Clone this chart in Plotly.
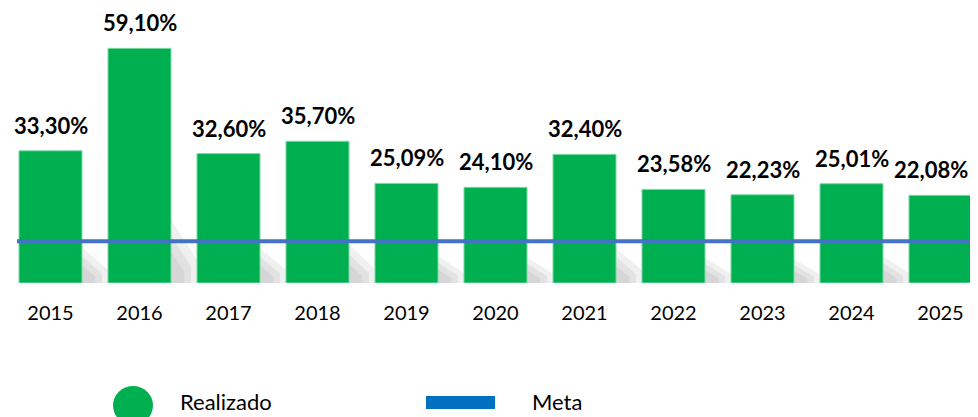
import plotly.graph_objects as go

# Datos
anios = [2015, 2016, 2017, 2018, 2019, 2020, 2021, 2022, 2023, 2024, 2025]
realizado = [33.30, 59.10, 32.60, 35.70, 25.09, 24.10, 32.40, 23.58, 22.23, 25.01, 22.08]
meta = 10.5
etiquetas_anio = [str(a) for a in anios]

VERDE = '#00B050'
AZUL_META = '#4472C4'
AZUL_LEYENDA = '#0070C0'
FUENTE = 'Lato'

# la pagina deja 8px de margen arriba/izquierda y una franja a la derecha
W, H = 962, 409
ALTO_PLOT = 275  # pixeles del area de dibujo
ANCHO_BARRA = 0.708
PX_POR_ANIO = 89


def py(pix):
    # pixel vertical (de la figura) -> coordenada paper
    return (ALTO_PLOT - pix) / ALTO_PLOT


def px(pix):
    return pix / W


def fmt(v):
    return f'{v:.2f}'.replace('.', ',') + '%'


fig = go.Figure()

# Sombra difusa a la derecha de cada barra (capas con poca opacidad)
for a, v in zip(anios, realizado):
    xr = a + ANCHO_BARRA / 2
    for f in [1.0, 0.75, 0.5]:
        alto = 0.27 * v * f
        ancho = 0.3 * f
        path = (f'M {xr},0 L {xr},{alto} '
                f'L {xr + ancho},{alto * 0.35} L {xr + ancho},0 Z')
        fig.add_shape(type='path', path=path, xref='x', yref='y',
                      fillcolor='rgba(120,120,120,0.11)', line=dict(width=0),
                      layer='below')

fig.add_trace(go.Bar(
    x=anios,
    y=realizado,
    width=ANCHO_BARRA,
    marker=dict(color=VERDE, line=dict(color='#7fd9a6', width=1)),
    showlegend=False,
    hoverinfo='skip',
))

# Linea de meta
fig.add_shape(type='line', xref='paper', yref='y',
              x0=px(9), x1=1, y0=meta, y1=meta,
              line=dict(color=AZUL_META, width=4))

# Etiquetas de valores
for i, (a, v) in enumerate(zip(anios, realizado)):
    ultimo = i == len(anios) - 1
    fig.add_annotation(x=1 if ultimo else a, xref='paper' if ultimo else 'x',
                       xanchor='right' if ultimo else 'center',
                       y=v, text=f'<b>{fmt(v)}</b>', showarrow=False,
                       yanchor='bottom', yshift=10,
                       font=dict(family=FUENTE, size=22, color='#000000'))

# Leyenda manual
fig.add_shape(type='circle', xref='paper', yref='paper',
              x0=px(105), x1=px(145), y0=py(417), y1=py(378),
              fillcolor=VERDE, line=dict(width=0))
fig.add_annotation(xref='paper', yref='paper', x=px(170), y=py(409),
                   xanchor='left', yanchor='bottom', text='Realizado', showarrow=False,
                   font=dict(family=FUENTE, size=22, color='#000000'))
fig.add_shape(type='rect', xref='paper', yref='paper',
              x0=px(418), x1=px(487), y0=py(401), y1=py(388),
              fillcolor=AZUL_LEYENDA, line=dict(width=0))
fig.add_annotation(xref='paper', yref='paper', x=px(522), y=py(409),
                   xanchor='left', yanchor='bottom', text='Meta', showarrow=False,
                   font=dict(family=FUENTE, size=22, color='#000000'))

x0 = 2015 - 42.5 / PX_POR_ANIO
fig.update_layout(
    width=W, height=H,
    margin=dict(l=0, r=0, t=0, b=H - ALTO_PLOT),
    plot_bgcolor='white',
    paper_bgcolor='white',
    xaxis=dict(range=[x0, x0 + W / PX_POR_ANIO], tickvals=anios, ticktext=etiquetas_anio,
               showgrid=False, zeroline=False, showline=False, ticks='',
               ticklabelstandoff=16,
               tickfont=dict(family=FUENTE, size=20, color='#000000')),
    yaxis=dict(range=[0, ALTO_PLOT / 3.97], visible=False, showgrid=False),
)

fig.write_html('out.html')
